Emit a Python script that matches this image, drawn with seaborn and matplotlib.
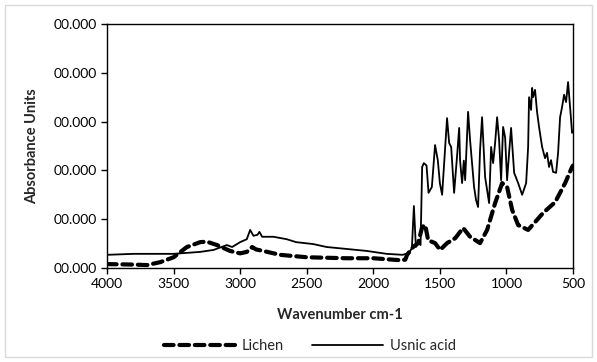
import matplotlib
matplotlib.use("Agg")
import matplotlib.pyplot as plt
from matplotlib.patches import Rectangle
from matplotlib.lines import Line2D
from matplotlib.ticker import FuncFormatter
import seaborn as sns
import pandas as pd

usnic_wn = [4000, 3800, 3500, 3300, 3200, 3100, 3060, 3000, 2950, 2925, 2900, 2870, 2855, 2835,
            2750, 2650, 2580, 2450, 2350, 2200, 2050, 1900, 1780, 1730, 1710, 1695, 1680, 1660,
            1645, 1633, 1620, 1600, 1585, 1560, 1536, 1515, 1500, 1483, 1446, 1430, 1415, 1393,
            1370, 1355, 1348, 1333, 1320, 1310, 1288, 1273, 1243, 1228, 1213, 1198, 1183, 1160,
            1130, 1115, 1100, 1085, 1070, 1055, 1040, 1025, 1010, 995, 980, 965, 942, 912, 882,
            852, 837, 830, 815, 807, 800, 785, 770, 755, 732, 710, 695, 680, 665, 650, 627, 612,
            597, 582, 567, 552, 537, 522, 507, 500]
usnic_abs = [0.27, 0.29, 0.29, 0.33, 0.37, 0.47, 0.43, 0.53, 0.59, 0.78, 0.66, 0.68, 0.74, 0.64,
             0.64, 0.59, 0.53, 0.49, 0.43, 0.39, 0.35, 0.29, 0.27, 0.31, 0.41, 1.27, 0.43, 0.53,
             0.47, 2.07, 2.15, 2.10, 1.54, 1.66, 2.52, 2.20, 1.74, 1.50, 3.07, 2.56, 2.48, 1.54,
             2.32, 2.87, 2.20, 1.74, 2.20, 1.80, 3.20, 2.62, 1.66, 1.39, 1.25, 2.42, 3.09, 1.86,
             1.33, 2.48, 2.15, 2.56, 3.09, 2.62, 1.80, 2.89, 2.68, 1.80, 2.36, 2.87, 1.95, 1.74, 1.50,
             1.74, 2.48, 3.50, 3.24, 3.69, 3.50, 3.65, 3.20, 2.89, 2.48, 2.25, 2.36, 2.07, 2.21, 1.97, 1.95, 2.36,
             3.09, 3.30, 3.55, 3.40, 3.81, 3.30, 2.77, 2.80]

lichen_wn = [4000, 3800, 3700, 3600, 3500, 3400, 3300, 3250, 3174, 3076, 3000, 2950, 2910, 2880,
             2828, 2700, 2500, 2200, 2000, 1800, 1760, 1746, 1701, 1663, 1633, 1610, 1588, 1536,
             1498, 1446, 1385, 1325, 1273, 1198, 1145, 1085, 1032, 995, 957, 912, 837, 785, 724,
             634, 559, 507, 500]
lichen_abs = [0.08, 0.07, 0.06, 0.12, 0.22, 0.43, 0.53, 0.54, 0.47, 0.35, 0.30, 0.33, 0.43, 0.38,
              0.35, 0.27, 0.22, 0.20, 0.20, 0.16, 0.17, 0.27, 0.43, 0.51, 0.84, 0.88, 0.57, 0.51,
              0.37, 0.51, 0.61, 0.82, 0.64, 0.51, 0.78, 1.33, 1.74, 1.66, 1.19, 0.88, 0.78, 0.94,
              1.13, 1.35, 1.74, 2.07, 2.10]

series_names = ["Lichen", "Usnic acid"]
x_ticks = [4000, 3500, 3000, 2500, 2000, 1500, 1000, 500]
y_ticks = [0, 1, 2, 3, 4, 5]

sns.set_style("white")
plt.rcParams['font.family'] = ['Lato', 'DejaVu Sans']

fig = plt.figure(figsize=(5.97, 3.62), dpi=100)
ax = fig.add_axes([107/597, 1-268/362, (573-107)/597, (268-24)/362])

df_l = pd.DataFrame({"wn": lichen_wn, "abs": lichen_abs})
df_u = pd.DataFrame({"wn": usnic_wn, "abs": usnic_abs})

dash = (0, (2.3, 1.4))
sns.lineplot(data=df_l, x="wn", y="abs", ax=ax, color="black", linewidth=3.0,
             linestyle=dash, estimator=None, sort=False, dash_capstyle="round")
sns.lineplot(data=df_u, x="wn", y="abs", ax=ax, color="black", linewidth=1.3,
             estimator=None, sort=False)

ax.set_xlim(4000, 500)
ax.set_ylim(0, 5)
ax.set_xticks(x_ticks)
ax.set_yticks(y_ticks)
ax.yaxis.set_major_formatter(FuncFormatter(lambda v, p: "00.000"))
ax.tick_params(axis="both", direction="out", length=4, width=1, color="black",
               labelsize=10, labelcolor="black", bottom=True, left=True, pad=3)
for s in ax.spines.values():
    s.set_color("black")
    s.set_linewidth(1.0)

ax.set_xlabel("Wavenumber cm-1", fontsize=10.5, fontweight="bold", labelpad=13)
ax.set_ylabel("Absorbance Units", fontsize=10.5, fontweight="bold", labelpad=11)

handles = [Line2D([], [], color="black", linewidth=3.0, linestyle=dash, dash_capstyle="round"),
           Line2D([], [], color="black", linewidth=1.3)]
fig.legend(handles, series_names, loc="center", bbox_to_anchor=(0.519, 1-346/362), ncol=2,
           frameon=False, fontsize=10.5, handlelength=4.9, columnspacing=1.9, handletextpad=0.45)

fig.patches.append(Rectangle((5/597, 5/362), 587/597, 352/362, transform=fig.transFigure,
                             fill=False, edgecolor="#d9d9d9", linewidth=1.0))

fig.savefig("out.png", dpi=100)
